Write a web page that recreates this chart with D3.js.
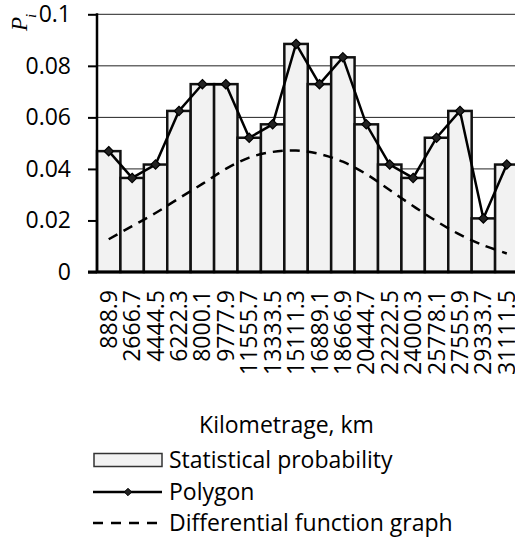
<!DOCTYPE html>
<html>
  <head>
    <meta charset="utf-8">
    <script src="https://d3js.org/d3.v7.min.js"></script>
    <style>
      body { margin: 0; background: white; }
      svg { display: block; font-family: "Open Sans", sans-serif; }
    </style>
  </head>
  <body>
    <div id="chart"></div>
    <script>
      // data
      const categories = ["888.9", "2666.7", "4444.5", "6222.3", "8000.1", "9777.9", "11555.7", "13333.5", "15111.3",
                          "16889.1", "18666.9", "20444.7", "22222.5", "24000.3", "25778.1", "27555.9", "29333.7", "31111.5"]
      const probability = [0.0469, 0.0365, 0.0417, 0.0625, 0.0729, 0.0729, 0.0521, 0.0573, 0.0885,
                           0.0729, 0.0833, 0.0573, 0.0417, 0.0365, 0.0521, 0.0625, 0.0208, 0.0417]
      const density = [0.0127, 0.0178, 0.0229, 0.0286, 0.0342, 0.0400, 0.0444, 0.0466, 0.0471,
                       0.0458, 0.0428, 0.0380, 0.0318, 0.0256, 0.0197, 0.0145, 0.0104, 0.0072]
      const yTicks = [0, 0.02, 0.04, 0.06, 0.08, 0.1]
      const legendItems = ["Statistical probability", "Polygon", "Differential function graph"]

      const W = 515, H = 540
      const plot = {left: 97, right: 518.5, top: 14.3, bottom: 272}

      const svg = d3.select('#chart').append('svg')
        .attr('width', W).attr('height', H)

      const x = d3.scaleBand().domain(categories).range([plot.left, plot.right]).padding(0)
      const y = d3.scaleLinear().domain([0, 0.1]).range([plot.bottom, plot.top])
      const cx = (d) => x(d) + x.bandwidth() / 2

      // gridlines (behind the bars)
      svg.append('g')
        .selectAll('line')
        .data(yTicks.filter(d => d > 0))
        .join('line')
          .attr('x1', plot.left).attr('x2', plot.right)
          .attr('y1', d => y(d)).attr('y2', d => y(d))
          .attr('stroke', '#222').attr('stroke-width', 1)

      // bars
      svg.append('g')
        .selectAll('rect')
        .data(categories)
        .join('rect')
          .attr('x', d => x(d))
          .attr('y', (d, i) => y(probability[i]))
          .attr('width', x.bandwidth())
          .attr('height', (d, i) => y(0) - y(probability[i]))
          .attr('fill', '#f2f2f2')
          .attr('stroke', '#111')
          .attr('stroke-width', 2.5)

      // y axis
      const yAxis = svg.append('g')
        .attr('transform', `translate(${plot.left},0)`)
        .call(d3.axisLeft(y).tickValues(yTicks).tickSize(9).tickPadding(17)
          .tickFormat(d => d === 0 ? '0' : d3.format('~g')(d)))
      yAxis.select('.domain').remove()
      yAxis.selectAll('.tick line').attr('stroke', '#000').attr('stroke-width', 2)
      yAxis.selectAll('.tick text')
        .attr('font-family', '"Open Sans", sans-serif')
        .attr('font-size', 23).attr('fill', '#000')
      svg.append('line')
        .attr('x1', plot.left).attr('x2', plot.left)
        .attr('y1', plot.top - 1).attr('y2', plot.bottom)
        .attr('stroke', '#000').attr('stroke-width', 2.5)

      // x axis
      svg.append('line')
        .attr('x1', plot.left - 9).attr('x2', plot.right)
        .attr('y1', plot.bottom).attr('y2', plot.bottom)
        .attr('stroke', '#000').attr('stroke-width', 3)
      svg.append('g')
        .selectAll('text')
        .data(categories)
        .join('text')
          .attr('transform', d => `translate(${cx(d)},290) rotate(-90)`)
          .attr('text-anchor', 'end')
          .attr('dy', '0.35em')
          .attr('font-size', 23)
          .text(d => d)

      // y axis title  P_i
      const yt = svg.append('text')
        .attr('transform', 'translate(27,31) rotate(-90)')
        .attr('font-family', '"Liberation Serif", serif')
        .attr('font-style', 'italic')
        .attr('font-size', 23)
      yt.append('tspan').text('P')
      yt.append('tspan').attr('dy', 9).attr('dx', -1).attr('font-size', 15).text('i')

      // differential function graph
      const curve = d3.line()
        .x((d, i) => cx(categories[i]))
        .y(d => y(d))
        .curve(d3.curveCatmullRom)
      svg.append('path')
        .attr('d', curve(density))
        .attr('fill', 'none')
        .attr('stroke', '#000')
        .attr('stroke-width', 2.5)
        .attr('stroke-dasharray', '10,7')

      // polygon
      const poly = d3.line()
        .x((d, i) => cx(categories[i]))
        .y(d => y(d))
      svg.append('path')
        .attr('d', poly(probability))
        .attr('fill', 'none')
        .attr('stroke', '#000')
        .attr('stroke-width', 2.5)
      const diamond = d3.symbol().type(d3.symbolDiamond2).size(55)
      svg.append('g')
        .selectAll('path')
        .data(probability)
        .join('path')
          .attr('transform', (d, i) => `translate(${cx(categories[i])},${y(d)})`)
          .attr('d', diamond)
          .attr('fill', '#222')
          .attr('stroke', '#000')
          .attr('stroke-width', 1.2)

      // x axis title
      svg.append('text')
        .attr('x', 286.5).attr('y', 433)
        .attr('text-anchor', 'middle')
        .attr('font-size', 23)
        .text('Kilometrage, km')

      // legend
      const lg = svg.append('g')
      const rowY = [460, 492, 523]
      lg.append('rect')
        .attr('x', 94).attr('y', rowY[0] - 6.5).attr('width', 68).attr('height', 13)
        .attr('fill', '#f2f2f2').attr('stroke', '#333').attr('stroke-width', 1.5)
      lg.append('line')
        .attr('x1', 93).attr('x2', 162).attr('y1', rowY[1]).attr('y2', rowY[1])
        .attr('stroke', '#000').attr('stroke-width', 2.5)
      lg.append('path')
        .attr('transform', `translate(128,${rowY[1]})`)
        .attr('d', d3.symbol().type(d3.symbolDiamond2).size(35))
        .attr('fill', '#222').attr('stroke', '#000').attr('stroke-width', 1)
      lg.append('line')
        .attr('x1', 93).attr('x2', 162).attr('y1', rowY[2]).attr('y2', rowY[2])
        .attr('stroke', '#000').attr('stroke-width', 2.5)
        .attr('stroke-dasharray', '10,8')
      lg.selectAll('text')
        .data(legendItems)
        .join('text')
          .attr('x', 169)
          .attr('y', (d, i) => rowY[i])
          .attr('dy', '0.35em')
          .attr('font-size', 23)
          .text(d => d)
    </script>
  </body>
</html>
